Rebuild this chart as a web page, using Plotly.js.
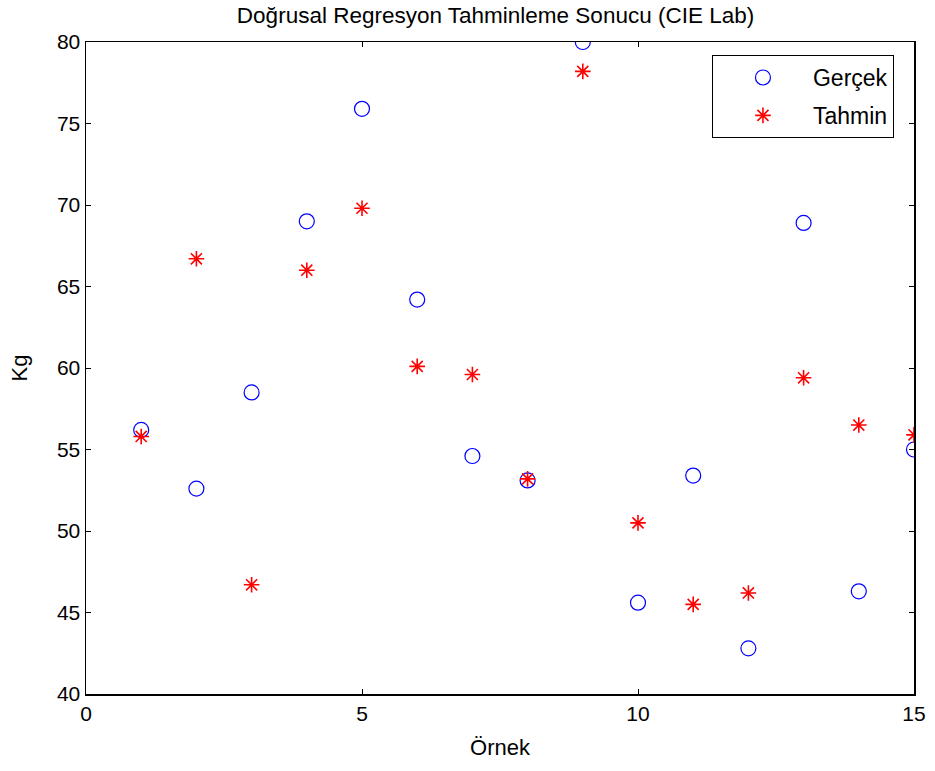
<!DOCTYPE html>
<html>
<head>
<meta charset="utf-8">
<script src="https://cdn.plot.ly/plotly-3.0.1.min.js"></script>
<style>html,body{margin:0;padding:0;background:#fff;}#chart{width:935px;height:771px;}</style>
</head>
<body>
<div id="chart"></div>
<script>
const ornek = [1,2,3,4,5,6,7,8,9,10,11,12,13,14,15];
const gercek = [56.2,52.6,58.5,69.0,75.9,64.2,54.6,53.1,80.0,45.6,53.4,42.8,68.9,46.3,55.0];
const tahmin = [55.8,66.7,46.7,66.0,69.8,60.1,59.6,53.2,78.2,50.5,45.5,46.2,59.4,56.5,55.9];
const xTicks = [0,5,10,15];
const yTicks = [40,45,50,55,60,65,70,75,80];

const font = {family: 'Liberation Sans, Arial, sans-serif', color: '#000'};
const traces = [
  {x: ornek, y: gercek, mode: 'markers', type: 'scatter', name: 'Gerçek', legendgroup: 'g1',
   marker: {symbol: 'circle-open', size: 15, color: '#0000ff', line: {width: 1.2, color: '#0000ff'}}},
  {x: ornek, y: tahmin, mode: 'markers', type: 'scatter', name: 'Tahmin', legendgroup: 'g2',
   marker: {symbol: 'asterisk-open', size: 13, color: '#ff0000', line: {width: 1.6, color: '#ff0000'}}}
];
const axisCommon = {
  showline: true, linecolor: '#000', linewidth: 1.5, mirror: 'ticks',
  ticks: 'inside', ticklen: 5, tickcolor: '#000', tickwidth: 1,
  showgrid: false, zeroline: false, tickfont: Object.assign({size: 21}, font)
};
const layout = {
  width: 935, height: 771,
  margin: {l: 86, r: 21, t: 42, b: 77},
  paper_bgcolor: '#fff', plot_bgcolor: '#fff',
  title: {text: 'Doğrusal Regresyon Tahminleme Sonucu (CIE Lab)', font: Object.assign({size: 22.5}, font), x: 0.530, xanchor: 'center', y: 0.981, yanchor: 'middle'},
  xaxis: Object.assign({}, axisCommon, {range: [0, 15], tickvals: xTicks, title: {text: 'Örnek', font: Object.assign({size: 22}, font), standoff: 16}}),
  yaxis: Object.assign({}, axisCommon, {range: [40, 80], tickvals: yTicks, title: {text: 'Kg', font: Object.assign({size: 22}, font), standoff: 23}}),
  legend: {x: 0.756, y: 0.980, xanchor: 'left', yanchor: 'top', bordercolor: '#000', borderwidth: 1,
           bgcolor: '#fff', font: Object.assign({size: 23}, font), itemwidth: 90,
           traceorder: 'grouped', tracegroupgap: 5},
  showlegend: true
};
Plotly.newPlot('chart', traces, layout, {displayModeBar: false, staticPlot: true});
</script>
</body>
</html>
